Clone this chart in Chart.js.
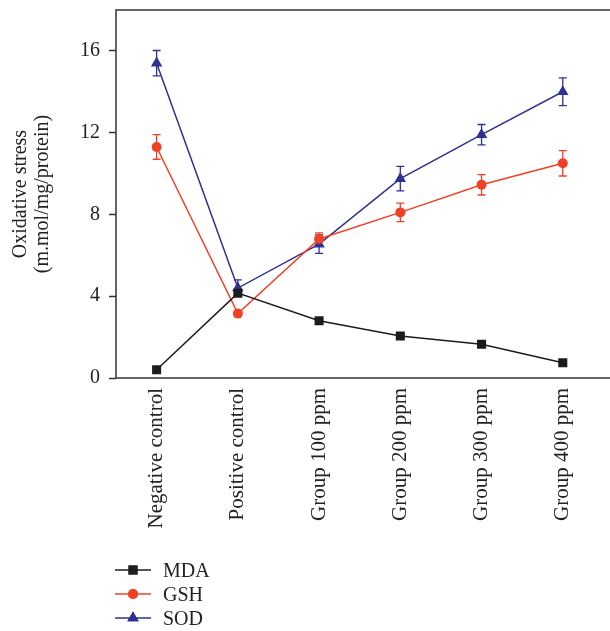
<!DOCTYPE html>
<html>
<head>
<meta charset="utf-8">
<script src="https://cdn.jsdelivr.net/npm/chart.js@4.4.1/dist/chart.umd.min.js"></script>
<style>
    html, body { margin: 0; padding: 0; background: #fff; overflow: hidden; }
    #wrap { position: relative; width: 610px; height: 631px; overflow: hidden; }
    #chart { position: absolute; left: 0; top: 0; }
    .legend { position: absolute; left: 115px; top: 558px; font-family: 'Liberation Serif', serif; font-size: 20px; color: #222; }
    .legend-item { height: 24px; display: flex; align-items: center; }
    .legend-item canvas { margin-right: 12px; }
</style>
</head>
<body>
<div id="wrap">
    <canvas id="chart" width="610" height="550"></canvas>
    <div class="legend" id="legend"></div>
</div>
<script>
// Oxidative stress chart

const categories = ['Negative control', 'Positive control', 'Group 100 ppm', 'Group 200 ppm', 'Group 300 ppm', 'Group 400 ppm'];
const mdaValues = [0.4, 4.15, 2.8, 2.05, 1.65, 0.75];
const gshValues = [11.3, 3.15, 6.8, 8.1, 9.45, 10.5];
const sodValues = [15.4, 4.4, 6.55, 9.75, 11.9, 14.0];
const mdaErrors = [0, 0, 0, 0, 0, 0];
const gshErrors = [0.6, 0, 0.3, 0.45, 0.5, 0.62];
const sodErrors = [0.62, 0.4, 0.45, 0.6, 0.5, 0.68];
const yTicks = [0, 4, 8, 12, 16];

const series = [
    { label: 'MDA', data: mdaValues, errors: mdaErrors, color: '#1c1c1c', style: 'rect', radius: 6.4 },
    { label: 'GSH', data: gshValues, errors: gshErrors, color: '#ef4123', style: 'circle', radius: 5 },
    { label: 'SOD', data: sodValues, errors: sodErrors, color: '#2e3192', style: 'triangle', radius: 6.6 }
];

const serif = 'Liberation Serif, Times New Roman, serif';

// error bars drawn under the markers
const errorBars = {
    id: 'errorBars',
    beforeDatasetsDraw(chart) {
        const ctx = chart.ctx;
        const y = chart.scales.y;
        chart.data.datasets.forEach((ds, i) => {
            const meta = chart.getDatasetMeta(i);
            ctx.save();
            ctx.strokeStyle = ds.borderColor;
            ctx.lineWidth = 1.3;
            meta.data.forEach((pt, j) => {
                const err = ds.errors[j];
                if (!err) return;
                const top = y.getPixelForValue(ds.data[j] + err);
                const bot = y.getPixelForValue(ds.data[j] - err);
                ctx.beginPath();
                ctx.moveTo(pt.x, top); ctx.lineTo(pt.x, bot);
                ctx.moveTo(pt.x - 4, top); ctx.lineTo(pt.x + 4, top);
                ctx.moveTo(pt.x - 4, bot); ctx.lineTo(pt.x + 4, bot);
                ctx.stroke();
            });
            ctx.restore();
        });
    }
};

// box on top, left and bottom (right side falls off the picture)
const frame = {
    id: 'frame',
    afterDraw(chart) {
        const a = chart.chartArea;
        const ctx = chart.ctx;
        ctx.save();
        ctx.strokeStyle = '#333';
        ctx.lineWidth = 1.5;
        ctx.beginPath();
        ctx.moveTo(chart.width, a.top);
        ctx.lineTo(a.left, a.top);
        ctx.lineTo(a.left, a.bottom);
        ctx.lineTo(chart.width, a.bottom);
        ctx.stroke();
        ctx.restore();
    }
};

new Chart(document.getElementById('chart'), {
    type: 'line',
    data: {
        labels: categories,
        datasets: series.map(s => ({
            label: s.label,
            data: s.data,
            errors: s.errors,
            borderColor: s.color,
            backgroundColor: s.color,
            borderWidth: 1.5,
            pointStyle: s.style,
            pointRadius: s.radius,
            pointBorderWidth: 0,
            tension: 0
        }))
    },
    options: {
        responsive: false,
        animation: false,
        devicePixelRatio: 1,
        layout: { padding: { top: 10, right: -3, left: 0, bottom: 0 } },
        plugins: { legend: { display: false }, tooltip: { enabled: false } },
        scales: {
            x: {
                offset: true,
                grid: { display: false, drawTicks: false },
                border: { display: false },
                ticks: {
                    autoSkip: false,
                    maxRotation: 90,
                    minRotation: 90,
                    padding: 10,
                    color: '#222',
                    font: { family: serif, size: 21 }
                },
                afterFit(scale) {
                    scale.height = 550 - 378;
                    scale.paddingLeft = 0;
                    scale.paddingRight = 0;
                }
            },
            y: {
                min: 0,
                max: 18,
                grid: { drawOnChartArea: false, tickLength: 7, color: '#333', tickWidth: 1.5 },
                border: { display: false },
                afterBuildTicks(scale) { scale.ticks = yTicks.map(v => ({ value: v })); },
                ticks: {
                    padding: 9,
                    color: '#222',
                    font: { family: serif, size: 20 }
                },
                title: {
                    display: true,
                    text: ['Oxidative stress', '(m.mol/mg/protein)'],
                    color: '#222',
                    font: { family: serif, size: 20, lineHeight: 1.1 },
                    padding: { top: 10, bottom: 0 }
                },
                afterFit(scale) {
                    scale.width = 116;
                    scale.paddingTop = 0;
                    scale.paddingBottom = 0;
                }
            }
        }
    },
    plugins: [errorBars, frame]
});

// legend: line with marker, then label
const legendEl = document.getElementById('legend');
series.forEach(s => {
    const item = document.createElement('div');
    item.className = 'legend-item';
    const c = document.createElement('canvas');
    c.width = 36; c.height = 20;
    const g = c.getContext('2d');
    g.strokeStyle = s.color;
    g.lineWidth = 1.5;
    g.beginPath(); g.moveTo(0, 10); g.lineTo(36, 10); g.stroke();
    g.fillStyle = s.color;
    Chart.helpers.drawPoint(g, { pointStyle: s.style, radius: s.radius, borderWidth: 0 }, 18, 10);
    g.fill();
    item.appendChild(c);
    const span = document.createElement('span');
    span.textContent = s.label;
    item.appendChild(span);
    legendEl.appendChild(item);
});
</script>
</body>
</html>
